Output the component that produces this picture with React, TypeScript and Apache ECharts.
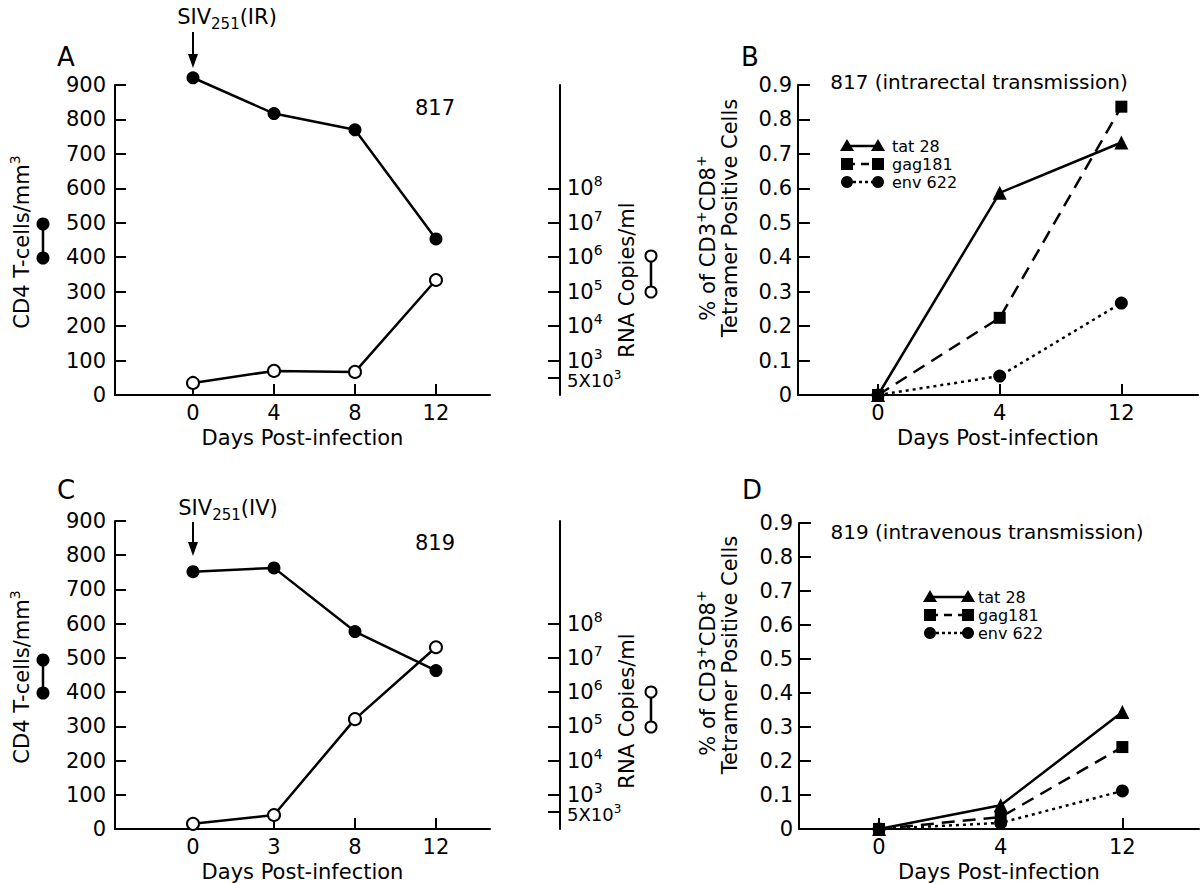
import React, { useEffect, useRef } from "react";
import * as echarts from "echarts";

// ---------- data ----------
const daysA = ["0", "4", "8", "12"];
const cd4A = [921, 817, 770, 453];
const rnaLogA = [2.35, 2.7, 2.67, 5.34]; // log10 RNA copies/ml as drawn on the right axis

const daysC = ["0", "3", "8", "12"];
const cd4C = [752, 763, 577, 463];
const rnaLogC = [2.15, 2.41, 5.21, 7.31];

const daysBD = ["0", "4", "12"];
const tatB = [0, 0.587, 0.733];
const gagB = [0, 0.224, 0.837];
const envB = [0, 0.055, 0.267];
const tatD = [0, 0.07, 0.344];
const gagD = [0, 0.035, 0.241];
const envD = [0, 0.018, 0.112];

// right-axis ticks (log10 positions) and their labels
const rnaTickLog = [2.5, 3, 4, 5, 6, 7, 8];
const rnaLabelLog = [3, 4, 5, 6, 7, 8];
const rnaLabels = ["10{sup|3}", "10{sup|4}", "10{sup|5}", "10{sup|6}", "10{sup|7}", "10{sup|8}"];
const rnaExtraLog = 2.5;
const rnaExtraLabel = "5X10{sup|3}";

const FONT = "DejaVu Sans";
const BLACK = "#000";
// right axis works in half-decade units so that every tick value is an integer
const HALF = 2;
const X_MIN_AC = -0.963;
const X_MAX_AC = 3.667;
const RNA_OFFSET = 70;

const supRich = {
  b: { fontSize: 21, lineHeight: 28, fontFamily: FONT, color: BLACK },
  sup: { fontSize: 14, lineHeight: 14, verticalAlign: "top", fontFamily: FONT, color: BLACK },
};
const supRichSmall = {
  b: { fontSize: 18, lineHeight: 24, fontFamily: FONT, color: BLACK },
  sup: { fontSize: 12, lineHeight: 12, verticalAlign: "top", fontFamily: FONT, color: BLACK },
};

const toRich = (s: string) => s.replace(/^([^{]+)/, "{b|$1}");

function xAxisFor(gridIndex: number, labels: string[], min: number, max: number) {
  const idx = labels.map((_, i) => i);
  return {
    type: "value",
    gridIndex,
    min,
    max,
    axisLine: { show: true, onZero: false, lineStyle: { color: BLACK, width: 2 } },
    axisTick: { show: true, inside: true, length: 11, customValues: idx, lineStyle: { color: BLACK, width: 2 } },
    axisLabel: {
      customValues: idx,
      formatter: (v: number) => labels[Math.round(v)] ?? "",
      color: BLACK,
      fontSize: 21,
      fontFamily: FONT,
      margin: 7,
    },
    splitLine: { show: false },
    name: "Days Post-infection",
    nameLocation: "middle",
    nameGap: 32,
    nameTextStyle: { color: BLACK, fontSize: 21, fontFamily: FONT },
  };
}

function cd4Axis(gridIndex: number) {
  return {
    type: "value",
    gridIndex,
    position: "left",
    min: 0,
    max: 900,
    interval: 100,
    axisLine: { show: true, onZero: false, lineStyle: { color: BLACK, width: 2 } },
    axisTick: { show: true, inside: true, length: 11, lineStyle: { color: BLACK, width: 2 } },
    axisLabel: { color: BLACK, fontSize: 21, fontFamily: FONT, margin: 9 },
    splitLine: { show: false },
  };
}

function rnaAxis(gridIndex: number) {
  const tickVals = rnaTickLog.map((v) => v * HALF);
  const labelVals = rnaLabelLog.map((v) => v * HALF);
  return {
    type: "value",
    gridIndex,
    position: "right",
    offset: RNA_OFFSET,
    min: 2 * HALF,
    max: 11 * HALF,
    axisLine: { show: true, onZero: false, lineStyle: { color: BLACK, width: 2 } },
    axisTick: { show: true, inside: true, length: 12, customValues: tickVals, lineStyle: { color: BLACK, width: 2 } },
    axisLabel: {
      customValues: labelVals,
      formatter: (v: number) => {
        const i = labelVals.findIndex((t) => Math.abs(t - v) < 1e-6);
        return i >= 0 ? toRich(rnaLabels[i]) : "";
      },
      rich: supRich,
      margin: 7,
      hideOverlap: false,
    },
    splitLine: { show: false },
  };
}

function pctAxis(gridIndex: number) {
  return {
    type: "value",
    gridIndex,
    min: 0,
    max: 0.9,
    interval: 0.1,
    axisLine: { show: true, onZero: false, lineStyle: { color: BLACK, width: 2 } },
    axisTick: { show: true, inside: true, length: 12, lineStyle: { color: BLACK, width: 2 } },
    axisLabel: {
      color: BLACK,
      fontSize: 21,
      fontFamily: FONT,
      margin: 6,
      formatter: (v: number) => (Math.abs(v) < 1e-9 ? "0" : v.toFixed(1)),
    },
    splitLine: { show: false },
  };
}

const pairs = (vals: number[], k = 1) => vals.map((v, i) => [i, v * k]);

function cd4Series(x: number, y: number, vals: number[]) {
  return {
    type: "line",
    xAxisIndex: x,
    yAxisIndex: y,
    data: pairs(vals),
    symbol: "circle",
    symbolSize: 13,
    clip: false,
    itemStyle: { color: BLACK },
    lineStyle: { color: BLACK, width: 2.5 },
    z: 3,
  };
}
function rnaSeries(x: number, y: number, vals: number[]) {
  return {
    type: "line",
    xAxisIndex: x,
    yAxisIndex: y,
    data: pairs(vals, HALF),
    symbol: "circle",
    symbolSize: 12,
    clip: false,
    itemStyle: { color: "#fff", borderColor: BLACK, borderWidth: 2 },
    lineStyle: { color: BLACK, width: 2.5 },
    z: 4,
  };
}
function tetSeries(x: number, y: number, vals: number[], symbol: string, dash: any, size: number) {
  return {
    type: "line",
    xAxisIndex: x,
    yAxisIndex: y,
    data: pairs(vals),
    symbol,
    symbolSize: size,
    clip: false,
    itemStyle: { color: BLACK },
    lineStyle: { color: BLACK, width: 2.5, type: dash },
    z: 3,
  };
}

function txt(x: number, y: number, text: string, fontSize: number, extra: any = {}) {
  const { rotation, align, verticalAlign, rich } = extra;
  return {
    type: "text",
    x,
    y,
    rotation: rotation || 0,
    style: {
      text,
      fill: BLACK,
      fontSize,
      fontFamily: FONT,
      align: align || "center",
      verticalAlign: verticalAlign || "middle",
      rich,
    },
    z: 10,
  };
}

function keyFilled(x: number, y1: number, y2: number) {
  return [
    { type: "line", shape: { x1: x, y1, x2: x, y2 }, style: { stroke: BLACK, lineWidth: 2.5 }, z: 10 },
    { type: "circle", shape: { cx: x, cy: y1, r: 6.5 }, style: { fill: BLACK }, z: 11 },
    { type: "circle", shape: { cx: x, cy: y2, r: 6.5 }, style: { fill: BLACK }, z: 11 },
  ];
}
function keyOpen(x: number, y1: number, y2: number) {
  return [
    { type: "line", shape: { x1: x, y1, x2: x, y2 }, style: { stroke: BLACK, lineWidth: 2.5 }, z: 10 },
    { type: "circle", shape: { cx: x, cy: y1, r: 5.5 }, style: { fill: "#fff", stroke: BLACK, lineWidth: 2 }, z: 11 },
    { type: "circle", shape: { cx: x, cy: y2, r: 5.5 }, style: { fill: "#fff", stroke: BLACK, lineWidth: 2 }, z: 11 },
  ];
}
function arrow(x: number, y1: number, y2: number) {
  return [
    { type: "line", shape: { x1: x, y1, x2: x, y2: y2 - 8 }, style: { stroke: BLACK, lineWidth: 2 }, z: 10 },
    { type: "polygon", shape: { points: [[x - 5, y2 - 14], [x + 5, y2 - 14], [x, y2]] }, style: { fill: BLACK }, z: 10 },
  ];
}

function marker(kind: string, cx: number, cy: number) {
  if (kind === "triangle")
    return { type: "polygon", shape: { points: [[cx, cy - 7], [cx - 7, cy + 5], [cx + 7, cy + 5]] }, style: { fill: BLACK }, z: 11 };
  if (kind === "rect")
    return { type: "rect", shape: { x: cx - 6, y: cy - 6, width: 12, height: 12 }, style: { fill: BLACK }, z: 11 };
  return { type: "circle", shape: { cx, cy, r: 6 }, style: { fill: BLACK }, z: 11 };
}

const legendNames = ["tat 28", "gag181", "env 622"];
const legendKinds = ["triangle", "rect", "circle"];
const legendDash: any[] = [null, [8, 6], [3, 3]];

function tetLegend(x1: number, x2: number, tx: number, ys: number[]) {
  const out: any[] = [];
  ys.forEach((y, i) => {
    out.push({
      type: "line",
      shape: { x1, y1: y, x2, y2: y },
      style: { stroke: BLACK, lineWidth: 2.5, lineDash: legendDash[i] || undefined },
      z: 10,
    });
    out.push(marker(legendKinds[i], x1, y));
    out.push(marker(legendKinds[i], x2, y));
    out.push(txt(tx, y, legendNames[i], 16, { align: "left" }));
  });
  return out;
}

const sivRich = {
  b: { fontSize: 21, lineHeight: 28, fontFamily: FONT, color: BLACK },
  sub: { fontSize: 15, lineHeight: 15, verticalAlign: "bottom", fontFamily: FONT, color: BLACK },
};
const axRich = {
  b: { fontSize: 21, lineHeight: 28, fontFamily: FONT, color: BLACK },
  sup: { fontSize: 14, lineHeight: 14, verticalAlign: "top", fontFamily: FONT, color: BLACK },
};

export default function App() {
  const ref = useRef<HTMLDivElement>(null);
  useEffect(() => {
    if (!ref.current) return;
    const chart = echarts.init(ref.current, undefined, { renderer: "svg" });

    const graphic: any[] = [
      txt(66, 57, "A", 26),
      txt(750, 57, "B", 26),
      txt(66, 490, "C", 26),
      txt(752, 490, "D", 26),
      txt(227, 17, "{b|SIV}{sub|251}{b|(IR)}", 21, { rich: sivRich }),
      txt(228, 508, "{b|SIV}{sub|251}{b|(IV)}", 21, { rich: sivRich }),
      ...arrow(193, 32, 68),
      ...arrow(193, 522, 556),
      txt(435, 108, "817", 21),
      txt(435, 543, "819", 21),
      txt(22, 242, "{b|CD4 T-cells/mm}{sup|3}", 21, { rotation: Math.PI / 2, rich: axRich }),
      txt(22, 677, "{b|CD4 T-cells/mm}{sup|3}", 21, { rotation: Math.PI / 2, rich: axRich }),
      ...keyFilled(43, 224, 258),
      ...keyFilled(43, 660, 693),
      txt(627, 280, "RNA Copies/ml", 21, { rotation: Math.PI / 2 }),
      txt(627, 711, "RNA Copies/ml", 21, { rotation: Math.PI / 2 }),
      ...keyOpen(651, 256, 292),
      ...keyOpen(651, 692, 727),
      txt(979, 82, "817 (intrarectal transmission)", 20),
      txt(987, 532, "819 (intravenous transmission)", 20),
      txt(708, 238, "{b|% of CD3}{sup|+}{b|CD8}{sup|+}", 21, { rotation: Math.PI / 2, rich: axRich }),
      txt(730, 218, "Tetramer Positive Cells", 21, { rotation: Math.PI / 2 }),
      txt(708, 673, "{b|% of CD3}{sup|+}{b|CD8}{sup|+}", 21, { rotation: Math.PI / 2, rich: axRich }),
      txt(730, 655, "Tetramer Positive Cells", 21, { rotation: Math.PI / 2 }),
      ...tetLegend(847, 878, 892, [146, 164, 182]),
      ...tetLegend(930, 968, 978, [597, 615, 633]),
    ];

    const option: any = {
      animation: false,
      backgroundColor: "#fff",
      textStyle: { fontFamily: FONT },
      grid: [
        { left: 115, top: 85, width: 375, height: 310 },
        { left: 115, top: 521, width: 375, height: 308 },
        { left: 798, top: 85, width: 400, height: 310 },
        { left: 799, top: 523, width: 400, height: 306 },
      ],
      xAxis: [
        xAxisFor(0, daysA, X_MIN_AC, X_MAX_AC),
        xAxisFor(1, daysC, X_MIN_AC, X_MAX_AC),
        xAxisFor(2, daysBD, -0.658, 2.63),
        xAxisFor(3, daysBD, -0.658, 2.63),
      ],
      yAxis: [cd4Axis(0), rnaAxis(0), cd4Axis(1), rnaAxis(1), pctAxis(2), pctAxis(3)],
      series: [
        cd4Series(0, 0, cd4A),
        rnaSeries(0, 1, rnaLogA),
        cd4Series(1, 2, cd4C),
        rnaSeries(1, 3, rnaLogC),
        tetSeries(2, 4, envB, "circle", [3, 4], 13),
        tetSeries(2, 4, tatB, "triangle", "solid", 14),
        tetSeries(2, 4, gagB, "rect", [13, 8], 12),
        tetSeries(3, 5, envD, "circle", [3, 4], 13),
        tetSeries(3, 5, tatD, "triangle", "solid", 14),
        tetSeries(3, 5, gagD, "rect", [13, 8], 12),
      ],
      graphic,
    };
    chart.setOption(option);

    // the extra "5X10^3" label of each RNA axis, placed through the axis scale
    const extra: any[] = [];
    [
      { x: 0, y: 1 },
      { x: 1, y: 3 },
    ].forEach(({ x, y }) => {
      const py = chart.convertToPixel({ yAxisIndex: y }, rnaExtraLog * HALF) as number;
      const px = (chart.convertToPixel({ xAxisIndex: x }, X_MAX_AC) as number) + RNA_OFFSET + 7;
      extra.push(txt(px, py + 3, toRich(rnaExtraLabel), 18, { align: "left", rich: supRichSmall }));
    });
    chart.setOption({ graphic: [...graphic, ...extra] });

    return () => chart.dispose();
  }, []);
  return <div ref={ref} style={{ position: "absolute", left: 0, top: 0, width: 1200, height: 883 }} />;
}
